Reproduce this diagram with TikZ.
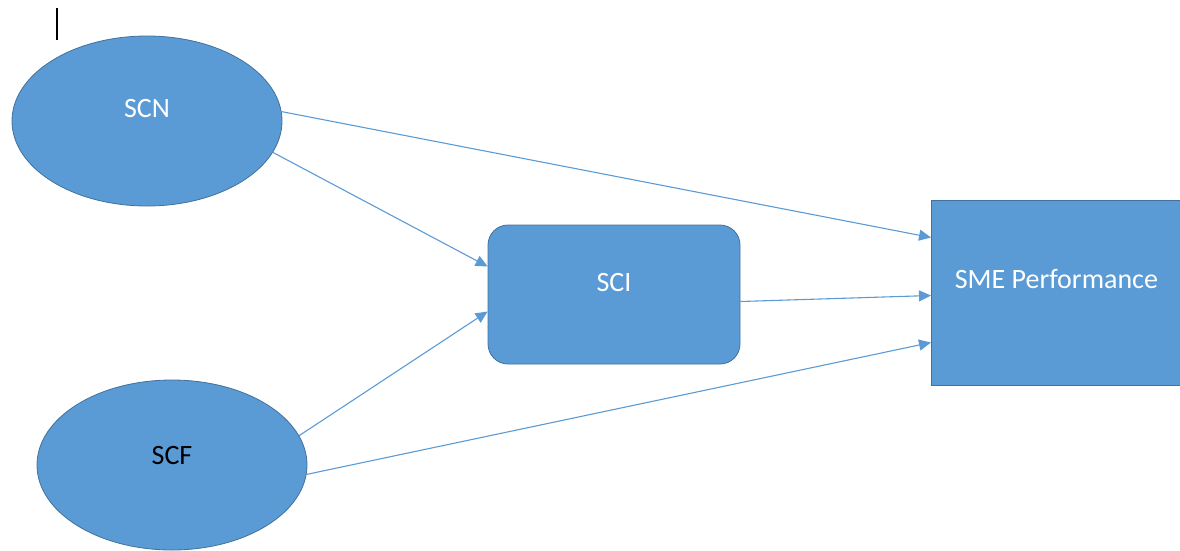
\documentclass[tikz,border=0pt]{standalone}
\usepackage{fontspec}
\setmainfont{Carlito}
\usetikzlibrary{shapes.geometric,arrows.meta,calc}
\definecolor{ofblue}{HTML}{5B9BD5}
\definecolor{ofedge}{HTML}{41719C}
\begin{document}
\begin{tikzpicture}[x=1pt,y=-1pt,
  oval/.style={ellipse,draw=ofedge,fill=ofblue,line width=0.8pt,minimum width=270pt,minimum height=170pt,inner sep=0pt,font=\fontsize{28}{33}\selectfont},
  box/.style={draw=ofedge,fill=ofblue,line width=0.8pt,inner sep=0pt,font=\fontsize{28}{33}\selectfont},
  conn/.style={draw=ofblue,line width=1.1pt,-{Triangle[length=12pt,width=11pt]}}]
\useasboundingbox (0,0) rectangle (1180,550);
\draw[black,line width=1.3pt] (57,8) coordinate (cur1) -- (57,40) coordinate (cur2);
\node[oval,text=white] (scn) at (147,121) {\raisebox{26pt}{SCN}};
\node[oval,text=black] (scf) at (172,465) {\raisebox{20pt}{SCF}};
\node[box,rounded corners=20pt,minimum width=252pt,minimum height=139pt,text=white] (sci) at (614,294.5) {\raisebox{25pt}{SCI}};
\node[box,minimum width=250pt,minimum height=185pt,text=white,anchor=west] (sme) at (931,292.5) {\raisebox{27pt}{SME Performance}};
\draw[conn] (scn.4) -- ($(sme.west)+(0,-55)$);
\draw[conn] (scn.-14) -- ($(sci.west)+(0,-28)$);
\draw[conn] (scf.13) -- ($(sci.west)+(0,17)$);
\draw[conn] ($(sci.east)+(0,7)$) -- ($(sme.west)+(0,3)$);
\draw[conn] (scf.-4) -- ($(sme.west)+(0,50)$);
\end{tikzpicture}
\end{document}
